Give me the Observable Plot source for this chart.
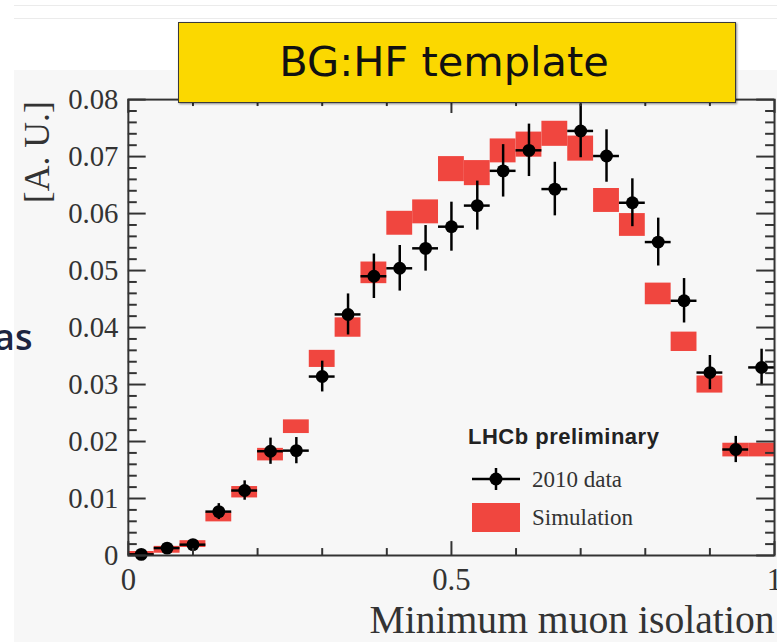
<!DOCTYPE html>
<html><head><meta charset="utf-8">
<script src="https://cdn.jsdelivr.net/npm/d3@7"></script>
<script src="https://cdn.jsdelivr.net/npm/@observablehq/plot@0.6"></script>
<style>
html,body{margin:0;padding:0;background:#fff;overflow:hidden;width:777px;height:642px;}
#page{position:relative;width:777px;height:642px;overflow:hidden;background:#fff;}
#bg{position:absolute;left:14px;top:70px;right:0;bottom:0;background:#f7f7f7;}
.hl{position:absolute;left:14px;right:0;height:1px;background:#ebebeb;}
#chart{position:absolute;left:0;top:0;}
#overlay{position:absolute;left:0;top:0;}
#title{position:absolute;left:178px;top:22px;width:556px;height:79px;box-sizing:content-box;background:#fbd800;border:1.5px solid #3a3a3a;box-shadow:1px 1px 2px rgba(0,0,0,.45);font-family:"DejaVu Sans";font-size:41.5px;display:flex;align-items:center;justify-content:center;color:#111;}
#title span{position:relative;left:-13px;top:-1px;}
</style>
</head>
<body>
<div id="page">
  <div id="bg"></div>
  <div class="hl" style="top:5px"></div>
  <div class="hl" style="top:18px"></div>
  <div id="chart"></div>
  <svg id="overlay" width="777" height="642"></svg>
  <div id="title"><span></span></div>
</div>
<script>
// ---- data ----
const titleText = "BG:HF template";
const yLabel = "[A. U.]";
const xLabel = "Minimum muon isolation";
const legendHeader = "LHCb preliminary";
const seriesNames = ["2010 data", "Simulation"];
const sideText = "as";

const binHalfWidth = 0.02;
const xCenters = [0.02,0.06,0.10,0.14,0.18,0.22,0.26,0.30,0.34,0.38,0.42,0.46,0.50,0.54,0.58,0.62,0.66,0.70,0.74,0.78,0.82,0.86,0.90,0.94,0.98];
const dataVals = [0.0002,0.0013,0.0019,0.0077,0.0114,0.0183,0.0184,0.0314,0.0423,0.0490,0.0504,0.0539,0.0577,0.0614,0.0675,0.0711,0.0643,0.0745,0.0701,0.0619,0.0550,0.0447,0.0321,0.0186,0.0330];
const dataErrs = [0.0004,0.0007,0.0009,0.0014,0.0017,0.0023,0.0023,0.0027,0.0036,0.0039,0.0040,0.0040,0.0043,0.0043,0.0046,0.0046,0.0047,0.0047,0.0046,0.0042,0.0042,0.0039,0.0030,0.0023,0.0032];
const simVals  = [0.0003,0.0010,0.0020,0.0067,0.0111,0.0177,0.0226,0.0345,0.0400,0.0496,0.0583,0.0603,0.0678,0.0671,0.0710,0.0721,0.0740,0.0714,0.0623,0.0580,0.0459,0.0375,0.0300,0.0185,0.0185];
const simErrs  = [0.0004,0.0006,0.0006,0.0008,0.0010,0.0011,0.0012,0.0015,0.0017,0.0019,0.0021,0.0021,0.0022,0.0022,0.0021,0.0022,0.0022,0.0022,0.0021,0.0020,0.0019,0.0017,0.0015,0.0012,0.0012];

const yMajor = [0,0.01,0.02,0.03,0.04,0.05,0.06,0.07,0.08];
const yTickLabels = ["0","0.01","0.02","0.03","0.04","0.05","0.06","0.07","0.08"];
const yMinor = [0.002,0.004,0.006,0.008,0.012,0.014,0.016,0.018,0.022,0.024,0.026,0.028,0.032,0.034,0.036,0.038,0.042,0.044,0.046,0.048,0.052,0.054,0.056,0.058,0.062,0.064,0.066,0.068,0.072,0.074,0.076,0.078];
const xMajor = [0,0.5,1];
const xTickLabels = ["0","0.5","1"];
const xMinor = [0.1,0.2,0.3,0.4,0.6,0.7,0.8,0.9];

const simColor = "#f0463f";
const axisColor = "#333";

// ---- chart ----
const W = 784, H = 642, mL = 129, mR = 3, mT = 100, mB = 82;
const PW = W - mL - mR, PH = H - mT - mB;
const rows = xCenters.map((x, i) => ({x, d: dataVals[i], de: dataErrs[i], s: simVals[i], se: simErrs[i]}));
const tickStyle = {stroke: axisColor, strokeWidth: 2};

const chart = Plot.plot({
  width: W, height: H,
  marginLeft: mL, marginRight: mR, marginTop: mT, marginBottom: mB,
  x: {domain: [0, 1]},
  y: {domain: [0, 0.08]},
  style: {background: "transparent", fontFamily: "Liberation Serif", color: axisColor, overflow: "visible"},
  marks: [
    Plot.rect(rows, {x1: d => d.x - binHalfWidth, x2: d => d.x + binHalfWidth, y1: d => d.s - d.se, y2: d => d.s + d.se, fill: simColor}),
    Plot.ruleX(rows, {x: "x", y1: d => d.d - d.de, y2: d => d.d + d.de, stroke: "#000", strokeWidth: 2.5}),
    Plot.ruleY(rows, {y: "d", x1: d => d.x - binHalfWidth, x2: d => d.x + binHalfWidth, stroke: "#000", strokeWidth: 2.5}),
    Plot.dot(rows, {x: "x", y: "d", r: 6.5, fill: "#000"}),
    Plot.ruleY(yMajor, {insetRight: PW - 18, ...tickStyle}),
    Plot.ruleY(yMinor, {insetRight: PW - 9, ...tickStyle}),
    Plot.ruleY(yMajor, {insetLeft: PW - 18, ...tickStyle}),
    Plot.ruleY(yMinor, {insetLeft: PW - 9, ...tickStyle}),
    Plot.ruleX(xMajor, {insetTop: PH - 14, ...tickStyle}),
    Plot.ruleX(xMinor, {insetTop: PH - 7, ...tickStyle}),
    Plot.ruleX(xMajor, {insetBottom: PH - 14, ...tickStyle}),
    Plot.ruleX(xMinor, {insetBottom: PH - 7, ...tickStyle}),
    Plot.frame({stroke: axisColor, strokeWidth: 2}),
    Plot.axisY({ticks: yMajor, tickSize: 0, tickPadding: 10, fontSize: 29, tickFormat: d => yTickLabels[yMajor.indexOf(d)], label: null}),
    Plot.axisX({ticks: xMajor, tickSize: 0, tickPadding: 13, fontSize: 31, tickFormat: d => xTickLabels[xMajor.indexOf(d)], label: null}),
    Plot.text([yLabel], {text: d => d, frameAnchor: "top-left", rotate: -90, dx: -92, dy: 53, fontSize: 36, textAnchor: "middle", lineAnchor: "middle", fill: axisColor}),
    Plot.text([xLabel], {text: d => d, frameAnchor: "bottom-right", textAnchor: "end", lineAnchor: "middle", dy: 65, fontSize: 40, fill: axisColor})
  ]
});
document.getElementById("chart").appendChild(chart);

document.querySelector("#title span").textContent = titleText;

// ---- overlay: legend + side text ----
const ov = d3.select("#overlay");
ov.append("text").attr("x", -6).attr("y", 350).attr("font-family", "Open Sans").attr("font-weight", 600)
  .attr("font-size", 36).attr("fill", "#1c2440").text(sideText);

const lg = ov.append("g").attr("transform", "translate(460,420)");
lg.append("text").attr("x", 8).attr("y", 24).attr("font-family", "Liberation Sans").attr("font-weight", "bold")
  .attr("font-size", 22).attr("letter-spacing", 0.5).attr("fill", "#222").text(legendHeader);
lg.append("line").attr("x1", 12).attr("x2", 60).attr("y1", 59).attr("y2", 59).attr("stroke", "#000").attr("stroke-width", 2.5);
lg.append("line").attr("x1", 36).attr("x2", 36).attr("y1", 48).attr("y2", 70).attr("stroke", "#000").attr("stroke-width", 2.5);
lg.append("circle").attr("cx", 36).attr("cy", 59).attr("r", 6.5).attr("fill", "#000");
lg.append("text").attr("x", 72).attr("y", 67).attr("font-family", "Liberation Serif").attr("font-size", 23).attr("fill", "#333").text(seriesNames[0]);
lg.append("rect").attr("x", 12).attr("y", 83).attr("width", 48).attr("height", 29).attr("fill", simColor);
lg.append("text").attr("x", 72).attr("y", 105).attr("font-family", "Liberation Serif").attr("font-size", 23).attr("fill", "#333").text(seriesNames[1]);
</script>
</body></html>
